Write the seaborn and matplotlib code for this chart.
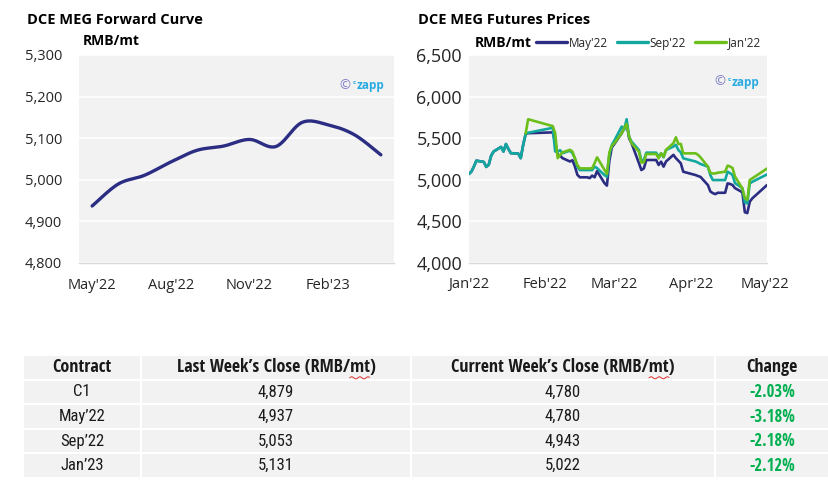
import os
import numpy as np
import pandas as pd
import matplotlib
matplotlib.use("Agg")
import matplotlib.pyplot as plt
import matplotlib.dates as mdates
from matplotlib import font_manager
import seaborn as sns

# forward curve (monthly contracts)
fwd_months = ["May'22", "Jun'22", "Jul'22", "Aug'22", "Sep'22", "Oct'22",
              "Nov'22", "Dec'22", "Jan'23", "Feb'23", "Mar'23", "Apr'23"]
fwd_values = [4937, 4990, 5011, 5043, 5071, 5081, 5097, 5080, 5138, 5132, 5108, 5060]

# futures prices (daily closes)
trade_dates = [
    "2022-01-04", "2022-01-05", "2022-01-06", "2022-01-07", "2022-01-10", "2022-01-11",
    "2022-01-12", "2022-01-13", "2022-01-14", "2022-01-17", "2022-01-18", "2022-01-19",
    "2022-01-20", "2022-01-21", "2022-01-24", "2022-01-25", "2022-01-26", "2022-01-27",
    "2022-01-28", "2022-02-07", "2022-02-08", "2022-02-09", "2022-02-10", "2022-02-11",
    "2022-02-14", "2022-02-15", "2022-02-16", "2022-02-17", "2022-02-18", "2022-02-21",
    "2022-02-22", "2022-02-23", "2022-02-24", "2022-02-25", "2022-02-28", "2022-03-01",
    "2022-03-02", "2022-03-03", "2022-03-04", "2022-03-07", "2022-03-08", "2022-03-09",
    "2022-03-10", "2022-03-11", "2022-03-14", "2022-03-15", "2022-03-16", "2022-03-17",
    "2022-03-18", "2022-03-21", "2022-03-22", "2022-03-23", "2022-03-24", "2022-03-25",
    "2022-03-28", "2022-03-29", "2022-03-30", "2022-03-31", "2022-04-01", "2022-04-06",
    "2022-04-07", "2022-04-08", "2022-04-11", "2022-04-12", "2022-04-13", "2022-04-14",
    "2022-04-15", "2022-04-18", "2022-04-19", "2022-04-20", "2022-04-21", "2022-04-22",
    "2022-04-25", "2022-04-26", "2022-04-27", "2022-04-28", "2022-04-29", "2022-05-05",
]
may22 = [5070, 5100, 5160, 5230, 5215, 5155, 5180, 5290, 5340, 5395, 5340, 5430,
         5370, 5320, 5315, 5260, 5420, 5550, 5560, 5570, 5450, 5300, 5290, 5260,
         5220, 5235, 5160, 5060, 5030, 5030, 5020, 5050, 5030, 5105, 4960, 4930,
         5230, 5390, 5430, 5560, 5620, 5680, 5500, 5440, 5200, 5117, 5137, 5238,
         5238, 5238, 5178, 5218, 5158, 5220, 5300, 5260, 5230, 5198, 5097, 5057,
         5045, 5035, 4937, 4860, 4840, 4828, 4844, 4844, 4957, 4950, 4937, 4900,
         4850, 4610, 4600, 4736, 4776, 4937]
sep22 = [5070, 5100, 5160, 5230, 5215, 5155, 5180, 5290, 5340, 5395, 5340, 5430,
         5370, 5320, 5315, 5260, 5420, 5550, 5565, 5625, 5340, 5340, 5355, 5320,
         5350, 5320, 5258, 5158, 5117, 5117, 5117, 5117, 5158, 5140, 5057, 5037,
         5300, 5419, 5470, 5640, 5600, 5728, 5519, 5459, 5358, 5230, 5238, 5326,
         5326, 5326, 5278, 5318, 5270, 5358, 5400, 5420, 5358, 5330, 5258, 5220,
         5206, 5190, 5158, 5057, 4997, 4997, 4997, 4997, 5097, 5080, 5057, 4960,
         4900, 4730, 4716, 4957, 4975, 5065]
jan23 = [np.nan] * 17 + [
         5555, 5728, 5645, 5560, 5260, 5300, 5330,
         5360, 5340, 5258, 5178, 5137, 5137, 5137, 5137, 5200, 5270, 5120, 5070,
         5330, 5410, 5440, 5560, 5620, 5672, 5520, 5440, 5338, 5206, 5210, 5310,
         5310, 5310, 5258, 5318, 5278, 5360, 5440, 5511, 5431, 5431, 5318, 5318,
         5300, 5270, 5158, 5085, 5075, 5077, 5085, 5097, 5170, 5160, 5142, 5040,
         4896, 4780, 4760, 4997, 5017, 5135]
series_names = ["May'22", "Sep'22", "Jan'22"]

# weekly table
contracts = ["C1", "May\u201922", "Sep\u201922", "Jan\u201923"]
last_close = ["4,879", "4,937", "5,053", "5,131"]
curr_close = ["4,780", "4,780", "4,943", "5,022"]
changes = ["-2.03%", "-3.18%", "-2.18%", "-2.12%"]
table_header = ["Contract", "Last Week\u2019s Close (RMB/mt)",
                "Current Week\u2019s Close (RMB/mt)", "Change"]

NAVY = "#2B2D83"
TEAL = "#12A8A0"
GREEN = "#6CBF1A"
PANEL = "#F2F2F2"

sns.set_style("white")
plt.rcParams["font.family"] = ["Open Sans", "DejaVu Sans"]


def find_narrow(bold):
    # look for any condensed / narrow face for the table
    prefs = ["open sans condensed", "roboto condensed", "liberation sans narrow",
             "dejavu sans condensed", "noto sans condensed", "dejavu sans"]
    found = {}
    for f in font_manager.fontManager.ttflist:
        fn = os.path.basename(f.fname).lower()
        tag = (f.name + " " + fn).lower()
        cond = ("condensed" in tag or "narrow" in tag or str(f.stretch).endswith("condensed"))
        if not cond or f.style != "normal" or "light" in fn or "oblique" in fn:
            continue
        w = f.weight if isinstance(f.weight, int) else font_manager.weight_dict.get(f.weight, 400)
        if bold != (w >= 600):
            continue
        for p in prefs:
            if p.split()[0] in tag and p not in found:
                found[p] = f.fname
    for p in prefs:
        if p in found:
            return font_manager.FontProperties(fname=found[p])
    return None


narrow_reg = find_narrow(False)
narrow_bold = find_narrow(True)


def smooth_curve(xv, yv, n=24):
    # catmull-rom spline, similar to the spreadsheet "smoothed line"
    p = np.column_stack([xv, yv]).astype(float)
    p = np.vstack([p[0], p, p[-1]])
    out = []
    for i in range(1, len(p) - 2):
        p0, p1, p2, p3 = p[i - 1], p[i], p[i + 1], p[i + 2]
        t = np.linspace(0, 1, n, endpoint=False)[:, None]
        seg = 0.5 * ((2 * p1) + (-p0 + p2) * t + (2 * p0 - 5 * p1 + 4 * p2 - p3) * t ** 2
                     + (-p0 + 3 * p1 - 3 * p2 + p3) * t ** 3)
        out.append(seg)
    out.append(p[-2][None, :])
    out = np.vstack(out)
    return out[:, 0], out[:, 1]


def style_panel(ax, ysize, ypad, xpad):
    ax.set_facecolor(PANEL)
    for s in ["top", "right", "left"]:
        ax.spines[s].set_visible(False)
    ax.spines["bottom"].set_color("#D9D9D9")
    ax.spines["bottom"].set_linewidth(1.0)
    ax.grid(axis="y", color="white", lw=1.2)
    ax.set_axisbelow(True)
    ax.tick_params(axis="y", length=0, pad=ypad, labelsize=ysize, labelcolor="#262626")
    ax.tick_params(axis="x", which="both", direction="out", length=4, color="#D9D9D9",
                   labelsize=10.5, labelcolor="#262626", pad=xpad)
    ax.set_xlabel("")
    ax.set_ylabel("")


def watermark(ax, x, y):
    ax.text(x, y, "\u00a9", transform=ax.transAxes, color="#7C7CC4", fontsize=9.5,
            ha="right", va="center")
    ax.text(x + 0.008, y + 0.012, "c", transform=ax.transAxes, color="#29ABE2", fontsize=4.5,
            ha="left", va="center", fontweight="bold")
    ax.text(x + 0.022, y, "zapp", transform=ax.transAxes, color="#29ABE2", fontsize=8.5,
            ha="left", va="center", fontweight="bold")


fig = plt.figure(figsize=(8.29, 5.01), dpi=100)
W, H = 829, 501

# ---- left: forward curve
ax1 = fig.add_axes([79 / W, 1 - 263 / H, 315 / W, 208 / H])
xs, ys = smooth_curve(np.arange(len(fwd_values)), fwd_values)
sns.lineplot(x=xs, y=ys, ax=ax1, color=NAVY, lw=2.4, sort=False)
ax1.set_xlim(-0.5, len(fwd_months) - 0.5)
ax1.set_ylim(4800, 5300)
ax1.set_yticks(range(4800, 5301, 100))
ax1.yaxis.set_major_formatter(matplotlib.ticker.StrMethodFormatter("{x:,.0f}"))
ax1.set_xticks(range(0, len(fwd_months), 3))
ax1.set_xticklabels(fwd_months[::3])
ax1.set_xticks(np.arange(-0.5, len(fwd_months), 1), minor=True)
style_panel(ax1, 10.5, 12, 10.5)
ax1.tick_params(axis="x", which="major", length=0)
watermark(ax1, 0.86, 0.855)

fig.text(27 / W, 1 - 20 / H, "DCE MEG Forward Curve", fontsize=10.5, fontweight="bold",
         ha="left", va="center", color="black")
fig.text(83 / W, 1 - 41 / H, "RMB/mt", fontsize=10, fontweight="bold",
         ha="left", va="center", color="black")

# ---- right: futures prices
ax2 = fig.add_axes([469 / W, 1 - 263 / H, 298 / W, 208 / H])
df = pd.DataFrame({"date": pd.to_datetime(trade_dates), series_names[0]: may22,
                   series_names[1]: sep22, series_names[2]: jan23})
long = df.melt(id_vars="date", var_name="contract", value_name="price")
sns.lineplot(data=long, x="date", y="price", hue="contract", hue_order=series_names,
             palette=[NAVY, TEAL, GREEN], lw=1.9, ax=ax2, legend=False)
start = pd.Timestamp(trade_dates[0])
ax2.set_xlim(start, pd.Timestamp(trade_dates[-1]))
ax2.set_ylim(4000, 6500)
ax2.set_yticks(range(4000, 6501, 500))
ax2.yaxis.set_major_formatter(matplotlib.ticker.StrMethodFormatter("{x:,.0f}"))
month_ticks = [start + pd.DateOffset(months=k) for k in range(5)]
ax2.set_xticks(month_ticks)
ax2.xaxis.set_major_formatter(mdates.DateFormatter("%b'%y"))
style_panel(ax2, 13, 5, 6)
watermark(ax2, 0.86, 0.87)

handles = [plt.Line2D([], [], color=c, lw=2.4) for c in [NAVY, TEAL, GREEN]]
fig.legend(handles, series_names, loc="center left", bbox_to_anchor=(536 / W, 1 - 43 / H),
           ncol=3, frameon=False, fontsize=8.5, handlelength=2.6, handletextpad=0.15,
           columnspacing=0.8, borderpad=0, borderaxespad=0)
fig.text(418 / W, 1 - 20 / H, "DCE MEG Futures Prices", fontsize=10.5, fontweight="bold",
         ha="left", va="center", color="black")
fig.text(475 / W, 1 - 43 / H, "RMB/mt", fontsize=10, fontweight="bold",
         ha="left", va="center", color="black")

# ---- table
ax3 = fig.add_axes([23 / W, 1 - 478 / H, (829 - 23) / W, (478 - 355) / H])
ax3.axis("off")
cells = [[c, l, n, ch] for c, l, n, ch in zip(contracts, last_close, curr_close, changes)]
col_w = np.array([118, 270, 304, 114], dtype=float)
tbl = ax3.table(cellText=cells, colLabels=table_header, colWidths=list(col_w / col_w.sum()),
                cellLoc="center", bbox=[0, 0, 1, 1])
tbl.auto_set_font_size(False)
for (r, c), cell in tbl.get_celld().items():
    cell.set_facecolor(PANEL)
    cell.set_edgecolor("white")
    cell.set_linewidth(1.5)
    txt = cell.get_text()
    bold = r == 0 or c == 3
    fp = narrow_bold if bold else narrow_reg
    if fp is not None:
        txt.set_fontproperties(fp)
        txt.set_fontsize(13 if r == 0 else 12)
    else:
        txt.set_fontfamily(["Roboto", "DejaVu Sans"])
        txt.set_fontweight("bold" if bold else "normal")
        txt.set_fontsize(10.5 if r == 0 else 10)
    txt.set_color("#1A1A1A")
    if c == 3 and r > 0:
        txt.set_color("#00B050")

# spell-check squiggle under "mt" in the two close headers
fig.canvas.draw()
rend = fig.canvas.get_renderer()
for c in (1, 2):
    t = tbl[0, c].get_text()
    full = t.get_window_extent(rend)
    probe = fig.text(0, 0, "mt)", fontproperties=t.get_fontproperties())
    pw = probe.get_window_extent(rend).width
    probe2 = fig.text(0, 0, ")", fontproperties=t.get_fontproperties())
    cw = probe2.get_window_extent(rend).width
    probe.remove()
    probe2.remove()
    x0, x1 = full.x1 - pw, full.x1 - cw
    sx = np.linspace(x0, x1, 40)
    sy = full.y0 - 1.5 + 1.0 * np.sin((sx - x0) / 1.3)
    fig.add_artist(plt.Line2D(sx / W, sy / H, color="#E03030", lw=0.7))

fig.savefig("out.png", dpi=100)
